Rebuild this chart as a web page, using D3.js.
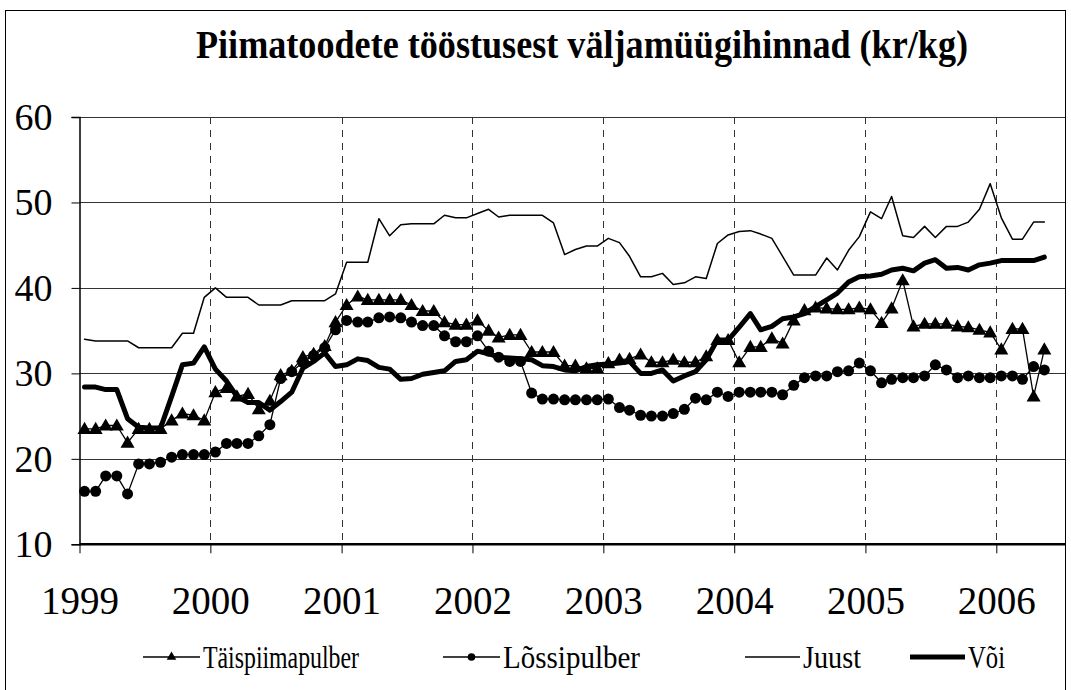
<!DOCTYPE html>
<html>
<head>
<meta charset="utf-8">
<script src="https://cdn.jsdelivr.net/npm/d3@7"></script>
<style>
	body { margin: 0; background: #fff; }
</style>
</head>
<body>
<div id="chart-container"></div>
<script>
var years = [1999, 2000, 2001, 2002, 2003, 2004, 2005, 2006];
var yTicks = [10, 20, 30, 40, 50, 60];
var seriesNames = ['Täispiimapulber', 'Lõssipulber', 'Juust', 'Või'];

// monthly prices, jan 1999 - may 2006
var taispiimapulber = [
	23.5, 23.5, 23.9, 23.9, 21.9, 23.5, 23.5, 23.5, 24.5, 25.3, 25.1, 24.5,
	27.8, 28.3, 27.3, 27.6, 25.8, 26.8, 29.8, 30.3, 31.9, 32.3, 33.2, 36.0,
	38.0, 39.0, 38.6, 38.6, 38.6, 38.6, 38.0, 37.3, 37.3, 36.0, 35.7, 35.7,
	36.2, 35.0, 34.2, 34.5, 34.5, 32.5, 32.5, 32.5, 30.9, 30.9, 30.6, 30.6,
	31.2, 31.6, 31.7, 32.2, 31.3, 31.3, 31.6, 31.3, 31.3, 32.0, 33.9, 33.9,
	31.3, 33.1, 33.1, 34.1, 33.5, 36.2, 37.4, 37.7, 37.6, 37.5, 37.5, 37.7,
	37.5, 35.9, 37.6, 40.9, 35.5, 35.8, 35.8, 35.8, 35.5, 35.4, 35.1, 34.8,
	32.8, 35.2, 35.2, 27.3, 32.8
];
var lossipulber = [
	16.2, 16.2, 18.0, 18.0, 15.9, 19.4, 19.4, 19.6, 20.2, 20.5, 20.5, 20.5,
	20.8, 21.8, 21.8, 21.8, 22.7, 24.0, 29.4, 30.2, 31.3, 32.1, 33.0, 35.1,
	36.2, 36.0, 36.0, 36.5, 36.6, 36.5, 36.0, 35.6, 35.6, 34.4, 33.7, 33.7,
	34.4, 32.6, 31.9, 31.4, 31.4, 27.7, 27.0, 27.0, 26.9, 26.9, 26.9, 26.9,
	27.0, 26.0, 25.7, 25.1, 25.0, 25.0, 25.3, 25.8, 27.1, 26.9, 27.8, 27.3,
	27.8, 27.8, 27.8, 27.8, 27.5, 28.6, 29.5, 29.7, 29.7, 30.2, 30.3, 31.2,
	30.3, 28.9, 29.3, 29.5, 29.5, 29.7, 31.0, 30.4, 29.5, 29.7, 29.5, 29.5,
	29.7, 29.7, 29.3, 30.8, 30.4
];
var juust = [
	34.0, 33.8, 33.8, 33.8, 33.8, 33.0, 33.0, 33.0, 33.0, 34.7, 34.7, 38.9,
	40.0, 38.9, 38.9, 38.9, 38.0, 38.0, 38.0, 38.5, 38.5, 38.5, 38.5, 39.3,
	43.0, 43.0, 43.0, 48.1, 46.1, 47.4, 47.5, 47.5, 47.5, 48.5, 48.2, 48.2,
	48.7, 49.2, 48.3, 48.5, 48.5, 48.5, 48.5, 47.6, 43.9, 44.5, 44.9, 44.9,
	45.8, 45.3, 43.7, 41.3, 41.3, 41.7, 40.4, 40.6, 41.3, 41.1, 45.2, 46.2,
	46.6, 46.7, 46.3, 45.8, 43.7, 41.5, 41.5, 41.5, 43.5, 42.1, 44.4, 46.0,
	48.9, 48.1, 50.7, 46.1, 45.9, 47.2, 45.9, 47.2, 47.2, 47.7, 49.2, 52.2,
	48.2, 45.7, 45.7, 47.7, 47.7
];
var voi = [
	28.4, 28.4, 28.1, 28.1, 24.7, 23.7, 23.6, 23.6, 27.3, 31.0, 31.2, 33.1,
	30.5, 29.1, 27.3, 26.6, 26.6, 25.7, 26.7, 27.8, 30.6, 31.4, 32.4, 30.8,
	31.0, 31.7, 31.5, 30.7, 30.5, 29.3, 29.4, 29.9, 30.1, 30.3, 31.4, 31.6,
	32.6, 32.3, 31.9, 31.8, 31.7, 31.6, 30.9, 30.8, 30.4, 30.3, 30.8, 31.0,
	31.1, 31.2, 31.4, 30.0, 30.0, 30.4, 29.1, 29.7, 30.2, 31.6, 33.9, 33.9,
	35.4, 37.0, 35.1, 35.5, 36.4, 36.6, 37.0, 37.8, 38.6, 39.4, 40.7, 41.3,
	41.4, 41.6, 42.1, 42.3, 42.0, 42.9, 43.3, 42.3, 42.4, 42.1, 42.7, 42.9,
	43.2, 43.2, 43.2, 43.2, 43.6
];

var chartWidth = 1071, chartHeight = 690;
var plotLeft = 79.5, plotTop = 117, plotBottom = 544.3, plotRight = 1065;
var serif = 'Liberation Serif';

// points sit mid-month on a date axis
var months = d3.timeMonth.range(new Date(1999, 0, 1), new Date(2006, 5, 1))
	.map(function (d) { return d3.timeDay.offset(d, 14); });

var x = d3.scaleTime()
	.domain([new Date(1999, 0, 1), new Date(2006, 0, 1)])
	.range([plotLeft, 996.3]);

var y = d3.scaleLinear()
	.domain([10, 60])
	.range([plotBottom, plotTop]);

var svg = d3.select('#chart-container')
	.append('svg')
	.attr('width', chartWidth)
	.attr('height', chartHeight);

//outer frame
svg.append('rect')
	.attr('x', 5.5).attr('y', 10.5)
	.attr('width', plotRight - 5).attr('height', 700)
	.attr('fill', 'none')
	.attr('stroke', '#000')
	.attr('stroke-width', 1);

svg.append('text')
	.attr('x', 196)
	.attr('y', 58)
	.attr('font-size', 40)
	.attr('font-weight', 'bold')
	.attr('font-family', serif)
	.attr('fill', '#000')
	.attr('textLength', 772)
	.attr('lengthAdjust', 'spacingAndGlyphs')
	.text('Piimatoodete tööstusest väljamüügihinnad (kr/kg)');

//horizontal grid
svg.append('g')
	.selectAll('line')
	.data(yTicks.slice(1))
	.enter()
	.append('line')
	.attr('x1', plotLeft).attr('x2', plotRight)
	.attr('y1', function (d) { return Math.round(y(d)) + 0.5; })
	.attr('y2', function (d) { return Math.round(y(d)) + 0.5; })
	.attr('stroke', '#333')
	.attr('stroke-width', 1);

//dashed year lines
svg.append('g')
	.selectAll('line')
	.data(years.slice(1))
	.enter()
	.append('line')
	.attr('x1', function (d) { return Math.round(x(new Date(d, 0, 1))) + 0.5; })
	.attr('x2', function (d) { return Math.round(x(new Date(d, 0, 1))) + 0.5; })
	.attr('y1', plotTop).attr('y2', plotBottom)
	.attr('stroke', '#333')
	.attr('stroke-dasharray', '7,6');

//y axis
var yAxis = d3.axisLeft(y)
	.tickValues(yTicks)
	.tickSize(8)
	.tickFormat(d3.format('d'));

var yg = svg.append('g')
	.attr('transform', 'translate(' + plotLeft + ',0)')
	.call(yAxis);
yg.attr('font-family', serif);
yg.select('.domain').attr('stroke', '#000').attr('stroke-width', 1.5);
yg.selectAll('.tick line').attr('stroke', '#000');
yg.selectAll('.tick text')
	.attr('x', -27)
	.attr('font-size', 38)
	.attr('font-family', serif)
	.attr('fill', '#000');

//x axis
var xAxis = d3.axisBottom(x)
	.tickValues(years.map(function (d) { return new Date(d, 0, 1); }))
	.tickSize(9)
	.tickSizeOuter(0)
	.tickFormat(d3.timeFormat('%Y'));

var xg = svg.append('g')
	.attr('transform', 'translate(0,' + plotBottom + ')')
	.call(xAxis);
xg.attr('font-family', serif);
xg.select('.domain').attr('d', 'M' + plotLeft + ',0H' + plotRight).attr('stroke', '#000').attr('stroke-width', 2.5);
xg.selectAll('.tick line').attr('stroke', '#000');
xg.selectAll('.tick text')
	.attr('y', 70)
	.attr('dy', 0)
	.attr('font-size', 39)
	.attr('font-family', serif)
	.attr('fill', '#000');

var line = function (values) {
	return d3.line()
		.x(function (d, i) { return x(months[i]); })
		.y(function (d) { return y(d); })(values);
};

var tri = d3.symbol().type(d3.symbolTriangle).size(85);
var triSmall = d3.symbol().type(d3.symbolTriangle).size(40);

var series = [
	{ name: seriesNames[0], values: taispiimapulber, width: 1.3, marker: 'triangle' },
	{ name: seriesNames[1], values: lossipulber, width: 1.3, marker: 'circle' },
	{ name: seriesNames[2], values: juust, width: 1.5, marker: null },
	{ name: seriesNames[3], values: voi, width: 5, marker: null }
];

var plot = svg.append('g');

series.forEach(function (s) {
	plot.append('path')
		.attr('d', line(s.values))
		.attr('fill', 'none')
		.attr('stroke', '#000')
		.attr('stroke-width', s.width)
		.attr('stroke-linejoin', 'round')
		.attr('stroke-linecap', 'round');

	if (s.marker === 'triangle') {
		plot.append('g').selectAll('path')
			.data(s.values)
			.enter()
			.append('path')
			.attr('d', tri)
			.attr('transform', function (d, i) { return 'translate(' + x(months[i]) + ',' + (y(d) + 1) + ')'; })
			.attr('fill', '#000');
	} else if (s.marker === 'circle') {
		plot.append('g').selectAll('circle')
			.data(s.values)
			.enter()
			.append('circle')
			.attr('cx', function (d, i) { return x(months[i]); })
			.attr('cy', function (d) { return y(d); })
			.attr('r', 5.5)
			.attr('fill', '#000');
	}
});

//legend
var legendItems = [
	{ x: 143, w: 57, len: 156 },
	{ x: 443, w: 57, len: 137 },
	{ x: 745, w: 55, len: 58 },
	{ x: 910, w: 55, len: 37 }
];
var legendY = 657;

var legend = svg.append('g').attr('class', 'legend');

series.forEach(function (s, i) {
	var item = legendItems[i];
	legend.append('line')
		.attr('x1', item.x).attr('x2', item.x + item.w)
		.attr('y1', legendY).attr('y2', legendY)
		.attr('stroke', '#000')
		.attr('stroke-width', s.width);
	if (s.marker === 'triangle') {
		legend.append('path')
			.attr('d', triSmall)
			.attr('transform', 'translate(' + (item.x + item.w / 2) + ',' + legendY + ')')
			.attr('fill', '#000');
	} else if (s.marker === 'circle') {
		legend.append('circle')
			.attr('cx', item.x + item.w / 2).attr('cy', legendY)
			.attr('r', 3.8)
			.attr('fill', '#000');
	}
	legend.append('text')
		.attr('x', item.x + item.w + 3)
		.attr('y', legendY + 11)
		.attr('font-size', 32)
		.attr('font-family', serif)
		.attr('fill', '#000')
		.attr('textLength', item.len)
		.attr('lengthAdjust', 'spacingAndGlyphs')
		.text(s.name);
});
</script>
</body>
</html>
